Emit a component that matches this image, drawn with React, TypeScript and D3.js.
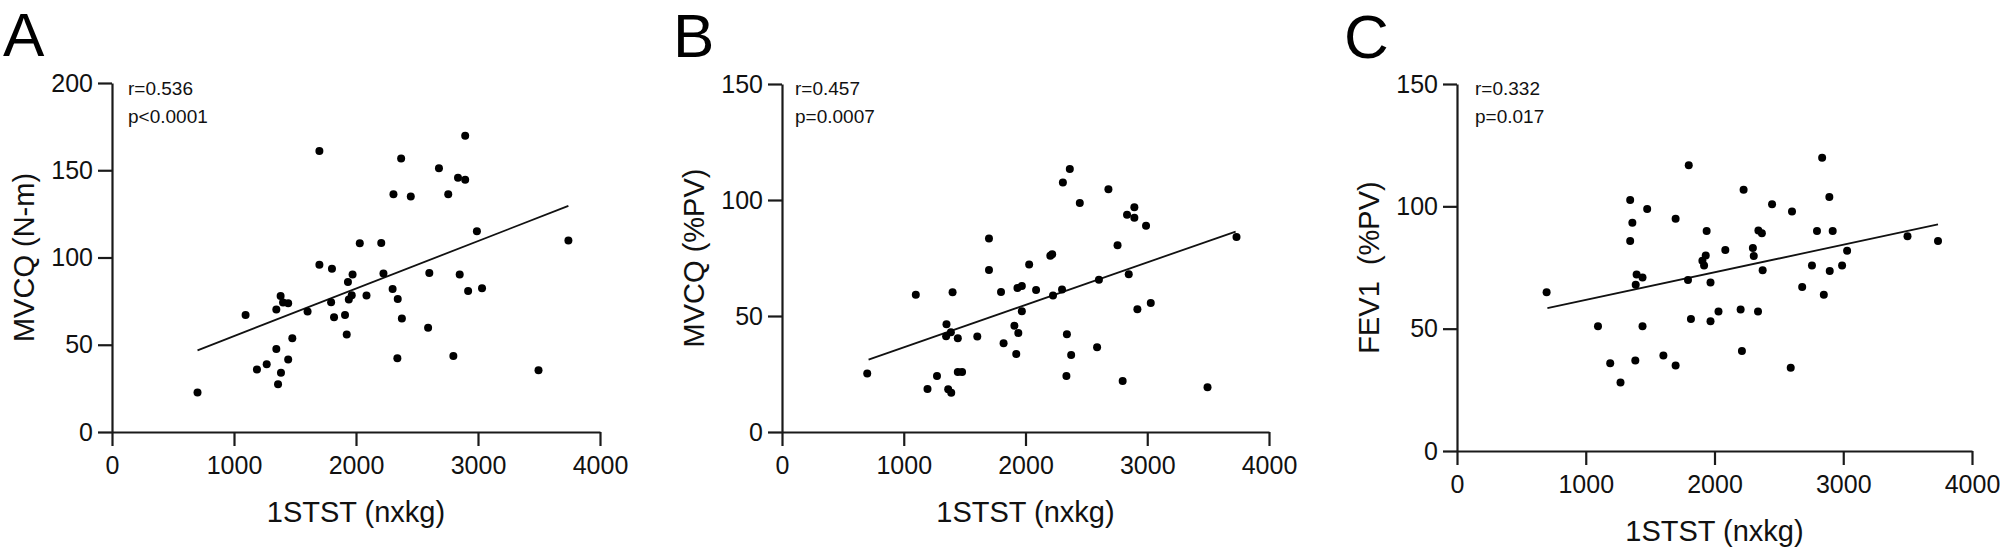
import React, {useRef, useEffect} from 'react'
import {scaleLinear, select, axisBottom, axisLeft} from 'd3'

// 1STST (nxkg) per subject
const aX = [701,1095,1188,1268,1347,1382,1347,1361,1385,1402,1444,1444,1478,1603,1700,1700,1796,1803,1820,1910,1924,1934,1941,1965,1972,2031,2086,2207,2225,2300,2307,2339,2342,2370,2376,2449,2591,2601,2680,2756,2798,2836,2850,2895,2895,2919,2991,3033,3496,3741]
const aY = [22.7,67.1,35.8,38.8,70.2,78.0,47.6,27.3,34.0,74.2,73.8,41.6,53.7,69.1,161.0,95.9,74.4,93.5,65.7,67.1,55.9,86.0,76.0,78.4,90.3,108.1,78.2,108.3,90.9,82.0,136.3,42.2,76.2,156.8,65.1,134.9,59.7,91.1,151.2,136.3,43.6,145.7,90.3,169.8,144.5,80.8,115.0,82.4,35.4,109.7]

const bX = [700,1099,1195,1273,1351,1348,1387,1401,1365,1390,1444,1444,1479,1604,1700,1700,1799,1820,1909,1924,1934,1941,1970,1970,2030,2087,2204,2219,2226,2300,2307,2336,2340,2364,2375,2446,2588,2603,2681,2756,2798,2834,2848,2894,2894,2919,2990,3029,3495,3733]
const bY = [25.2,59.2,18.5,24.1,46.4,41.3,43.0,60.2,18.4,16.9,40.4,25.9,25.9,41.2,83.4,69.8,60.3,38.3,45.8,33.6,62.1,42.7,62.9,52.0,72.2,61.2,76.0,76.6,58.8,61.4,107.5,24.1,42.1,113.4,33.2,98.7,36.5,65.6,104.6,80.5,22.0,93.6,68.0,96.9,92.4,52.9,88.9,55.6,19.3,84.0]

const cX = [696,1095,1190,1270,1345,1362,1345,1395,1388,1441,1385,1441,1477,1603,1698,1698,1800,1794,1817,1906,1919,1932,1939,1969,1969,2031,2084,2203,2213,2226,2298,2305,2338,2341,2368,2374,2447,2592,2602,2681,2757,2796,2836,2849,2892,2895,2918,2991,3030,3499,3736]
const cY = [64.9,51.0,35.9,28.0,102.6,93.3,85.8,72.1,67.9,70.9,37.0,51.0,98.9,39.0,94.9,34.9,116.8,69.9,54.0,77.8,75.8,79.9,89.9,68.9,53.0,57.0,82.2,57.8,40.9,106.8,83.0,79.7,57.0,90.1,89.0,73.9,100.9,34.0,97.9,67.0,75.8,89.9,119.9,63.9,103.8,73.6,89.9,75.8,81.8,87.8,85.8]

// fitted line end points [x, y]
const aFit = [[701, 46.8], [3741, 129.6]]
const bFit = [[711, 31.2], [3726, 86.4]]
const cFit = [[702, 58.4], [3736, 92.6]]

const xTicks = [0, 1000, 2000, 3000, 4000]
const yTicksA = [0, 50, 100, 150, 200]
const yTicksBC = [0, 50, 100, 150]

const panels = [
    {letter: 'A', xs: aX, ys: aY, fit: aFit, yMax: 200, yTicks: yTicksA, yLabel: 'MVCQ (N-m)', r: 'r=0.536', p: 'p<0.0001',
     left: 112, right: 600, top: 83, bottom: 432, letterX: 3, letterY: 56, noteDx: 16},
    {letter: 'B', xs: bX, ys: bY, fit: bFit, yMax: 150, yTicks: yTicksBC, yLabel: 'MVCQ (%PV)', r: 'r=0.457', p: 'p=0.0007',
     left: 782, right: 1269, top: 84, bottom: 432, letterX: 673, letterY: 57, noteDx: 13},
    {letter: 'C', xs: cX, ys: cY, fit: cFit, yMax: 150, yTicks: yTicksBC, yLabel: 'FEV1\u00a0 (%PV)', r: 'r=0.332', p: 'p=0.017',
     left: 1457, right: 1972, top: 84, bottom: 451, letterX: 1344, letterY: 58, noteDx: 18},
]

const font = 'Arial, "Liberation Sans", sans-serif'

const Panel = ({cfg}) => {
    const xRef = useRef()
    const yRef = useRef()
    const xScale = scaleLinear().domain([0, 4000]).range([cfg.left, cfg.right])
    const yScale = scaleLinear().domain([0, cfg.yMax]).range([cfg.bottom, cfg.top])

    useEffect(() => {
        const gx = select(xRef.current)
        gx.call(axisBottom(xScale).tickValues(xTicks).tickSize(14).tickSizeOuter(0).tickPadding(10).tickFormat(d => String(d)))
        const gy = select(yRef.current)
        gy.call(axisLeft(yScale).tickValues(cfg.yTicks).tickSize(14).tickSizeOuter(0).tickPadding(5).tickFormat(d => String(d)))
        for (const g of [gx, gy]) {
            g.selectAll('path, line').attr('stroke', '#1a1a1a').attr('stroke-width', 2.2)
            g.selectAll('text').attr('font-size', 25).attr('font-family', font).attr('fill', '#111')
        }
    }, [cfg])

    const midX = (cfg.left + cfg.right) / 2
    const midY = (cfg.top + cfg.bottom) / 2
    return (
        <g>
            <text x={cfg.letterX} y={cfg.letterY} fontSize={62} fontFamily={font} fill="#000">{cfg.letter}</text>
            <g ref={xRef} transform={`translate(0,${cfg.bottom})`} />
            <g ref={yRef} transform={`translate(${cfg.left},0)`} />
            <text x={midX} y={cfg.bottom + 90} textAnchor="middle" fontSize={29} fontFamily={font} fill="#111">1STST (nxkg)</text>
            <text transform={`translate(${cfg.left - 78},${midY}) rotate(-90)`} textAnchor="middle" fontSize={29} fontFamily={font} fill="#111" style={{whiteSpace: 'pre'}}>{cfg.yLabel}</text>
            <text x={cfg.left + cfg.noteDx} y={95} fontSize={19} fontFamily={font} fill="#111">{cfg.r}</text>
            <text x={cfg.left + cfg.noteDx} y={123} fontSize={19} fontFamily={font} fill="#111">{cfg.p}</text>
            <line x1={xScale(cfg.fit[0][0])} y1={yScale(cfg.fit[0][1])} x2={xScale(cfg.fit[1][0])} y2={yScale(cfg.fit[1][1])} stroke="#111" strokeWidth={1.8} />
            {cfg.xs.map((x, i) => (
                <circle key={i} cx={xScale(x)} cy={yScale(cfg.ys[i])} r={4} fill="#000" />
            ))}
        </g>
    )
}

const App = () => {
    return (
        <svg width={2000} height={548} viewBox="0 0 2000 548" style={{position: 'absolute', left: 0, top: 0, background: '#fff'}}>
            <rect width={2000} height={548} fill="#fff" />
            {panels.map(p => <Panel key={p.letter} cfg={p} />)}
        </svg>
    )
}

export default App
